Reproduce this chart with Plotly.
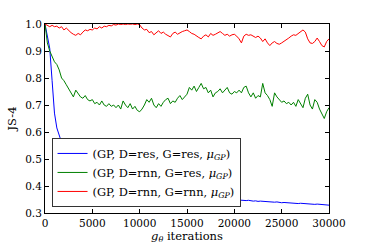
import plotly.graph_objects as go

iters = list(range(0, 30001, 250))

blue_vals = [
    1.0, 0.96, 0.91, 0.79, 0.67, 0.615, 0.585, 0.56, 0.535, 0.515,
    0.495, 0.48, 0.468, 0.46, 0.452, 0.445, 0.438, 0.432, 0.427, 0.422,
    0.418, 0.414, 0.41, 0.406, 0.403, 0.40, 0.397, 0.395, 0.392, 0.39,
    0.388, 0.386, 0.384, 0.382, 0.381, 0.379, 0.378, 0.376, 0.375, 0.374,
    0.373, 0.372, 0.371, 0.37, 0.369, 0.368, 0.367, 0.366, 0.365, 0.364,
    0.363, 0.362, 0.362, 0.361, 0.36, 0.359, 0.359, 0.358, 0.357, 0.357,
    0.356, 0.355, 0.355, 0.354, 0.354, 0.353, 0.353, 0.352, 0.352, 0.351,
    0.351, 0.35, 0.35, 0.349, 0.349, 0.348, 0.348, 0.348, 0.347, 0.347,
    0.347, 0.346, 0.348, 0.347, 0.346, 0.346, 0.347, 0.345, 0.344, 0.345,
    0.343, 0.344, 0.343, 0.342, 0.341, 0.342, 0.341, 0.34, 0.341, 0.339,
    0.338, 0.339, 0.338, 0.337, 0.338, 0.337, 0.336, 0.335, 0.336, 0.335,
    0.334, 0.333, 0.334, 0.333, 0.332, 0.333, 0.332, 0.331, 0.33, 0.331,
    0.329,
]

green_vals = [
    1.0, 0.93, 0.90, 0.88, 0.86, 0.85, 0.83, 0.80, 0.79, 0.775,
    0.76, 0.745, 0.73, 0.755, 0.74, 0.73, 0.725, 0.735, 0.72, 0.715,
    0.72, 0.705, 0.71, 0.70, 0.715, 0.70, 0.695, 0.705, 0.695, 0.70,
    0.69, 0.70, 0.685, 0.715, 0.70, 0.69, 0.705, 0.685, 0.695, 0.68,
    0.675, 0.685, 0.70, 0.72, 0.71, 0.725, 0.70, 0.69, 0.705, 0.695,
    0.71, 0.72, 0.725, 0.705, 0.715, 0.71, 0.725, 0.735, 0.72, 0.73,
    0.74, 0.765, 0.755, 0.77, 0.75, 0.765, 0.78, 0.76, 0.765, 0.745,
    0.755, 0.73, 0.745, 0.75, 0.76, 0.745, 0.755, 0.765, 0.745, 0.74,
    0.75, 0.745, 0.755, 0.745, 0.765, 0.77, 0.745, 0.73, 0.745, 0.725,
    0.735, 0.73, 0.78, 0.745, 0.735, 0.72, 0.695, 0.745, 0.73, 0.72,
    0.71, 0.715, 0.705, 0.71, 0.70, 0.71, 0.695, 0.72, 0.705, 0.69,
    0.725, 0.74, 0.70, 0.685, 0.72, 0.71, 0.685, 0.665, 0.65, 0.675,
    0.69,
]

red_vals = [
    1.0, 0.995, 0.99, 0.995, 0.99, 0.992, 0.985, 0.99, 0.978, 0.985,
    0.975, 0.968, 0.962, 0.958, 0.965, 0.96, 0.97, 0.978, 0.975, 0.98,
    0.978, 0.985, 0.982, 0.99, 0.985, 0.992, 0.99, 0.995, 0.993, 0.998,
    0.996, 1.0, 0.998, 1.0, 0.998, 1.0, 0.999, 1.0, 0.998, 1.0,
    0.997, 0.985, 0.978, 0.98, 0.968, 0.972, 0.96, 0.968, 0.975, 0.965,
    0.97, 0.962, 0.958, 0.952, 0.965, 0.97, 0.962, 0.968, 0.972, 0.975,
    0.978, 0.972, 0.965, 0.962, 0.955, 0.95, 0.945, 0.955, 0.96, 0.952,
    0.965, 0.958, 0.962, 0.968, 0.972, 0.965, 0.958, 0.962, 0.955, 0.96,
    0.962, 0.955, 0.945, 0.93, 0.955, 0.962, 0.958, 0.96, 0.955, 0.95,
    0.955, 0.948, 0.935, 0.945, 0.93, 0.92, 0.93, 0.935, 0.928, 0.925,
    0.93, 0.935, 0.94, 0.948, 0.955, 0.96, 0.958, 0.965, 0.972, 0.978,
    0.97, 0.945, 0.93, 0.928, 0.935, 0.948, 0.935, 0.92, 0.915, 0.935,
    0.945,
]

names = [
    "(GP, D=res, G=res, <i>μ<sub>GP</sub></i>)",
    "(GP, D=rnn, G=res, <i>μ<sub>GP</sub></i>)",
    "(GP, D=rnn, G=rnn, <i>μ<sub>GP</sub></i>)",
]
colors = ["#0000ff", "#008000", "#ff0000"]
x_ticks = [0, 5000, 10000, 15000, 20000, 25000, 30000]
y_ticks = [0.3, 0.4, 0.5, 0.6, 0.7, 0.8, 0.9, 1.0]

FONT = "DejaVu Serif"

fig = go.Figure()
for vals, name, col in zip([blue_vals, green_vals, red_vals], names, colors):
    fig.add_trace(go.Scatter(x=iters, y=vals, mode="lines", name=name,
                             line=dict(color=col, width=1)))

axis_common = dict(showline=True, linecolor="black", linewidth=1, mirror="allticks",
                   ticks="inside", ticklen=4, tickcolor="black", showgrid=False,
                   zeroline=False, automargin=False,
                   tickfont=dict(family=FONT, size=10.5, color="black"))

fig.update_xaxes(range=[0, 30000], tickvals=x_ticks, ticktext=[str(v) for v in x_ticks],
                 title=dict(text="<i>g<sub>θ</sub></i> iterations",
                            font=dict(family=FONT, size=11.5, color="black"), standoff=3),
                 **axis_common)
fig.update_yaxes(range=[0.3, 1.0], tickvals=y_ticks, ticktext=[f"{v:.1f}" for v in y_ticks],
                 title=dict(text="JS-4", font=dict(family=FONT, size=11.5, color="black"), standoff=6),
                 **axis_common)

fig.update_layout(
    width=366, height=244,
    margin=dict(l=45, r=37, t=24, b=31),
    paper_bgcolor="white", plot_bgcolor="white",
    font=dict(family=FONT, size=10.5, color="black"),
    legend=dict(x=0.023, y=0.032, xanchor="left", yanchor="bottom",
                bgcolor="white", bordercolor="#333333", borderwidth=1,
                font=dict(family=FONT, size=11.4, color="black"),
                itemwidth=30, tracegroupgap=0),
    showlegend=True,
)

fig.write_html("out.html", config={"displayModeBar": False},
               post_script="document.body.style.margin='0';document.body.style.padding='0';")
